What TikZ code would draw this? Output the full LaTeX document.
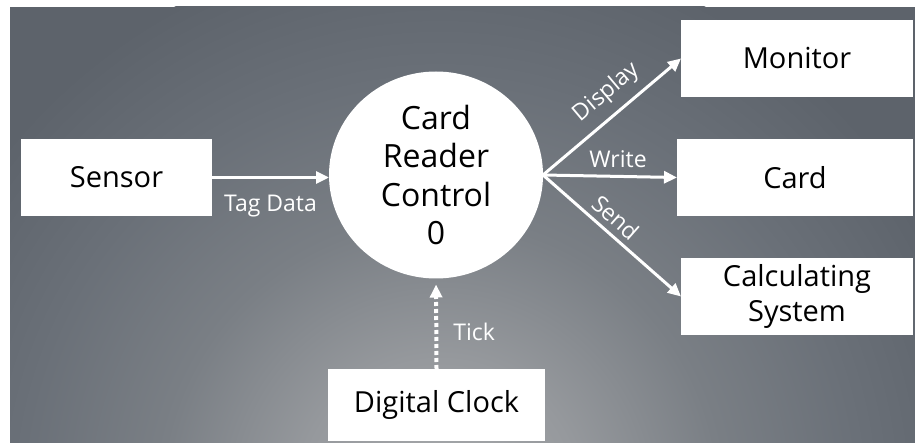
\documentclass[tikz,border=0pt]{standalone}
\usepackage{fontspec}
\setmainfont{Open Sans}
\usetikzlibrary{arrows.meta,shapes.geometric}
\definecolor{bgdark}{RGB}{93,99,107}
\definecolor{bgc1}{RGB}{106,112,120}
\definecolor{bgc2}{RGB}{122,127,133}
\definecolor{bgc3}{RGB}{150,153,157}
\definecolor{bglight}{RGB}{168,170,172}
\pgfdeclareradialshading{bgshade}{\pgfpoint{0bp}{0bp}}{%
  color(0bp)=(bglight); color(6.25bp)=(bgc3); color(12.5bp)=(bgc2);
  color(18.75bp)=(bgc1); color(25bp)=(bgdark); color(50bp)=(bgdark)}
\begin{document}
\begin{tikzpicture}[x=1pt,y=-1pt,
  box/.style={rectangle,fill=white,inner sep=0pt,outer sep=0pt,align=center,
    font=\fontsize{29}{35}\selectfont,text=black},
  proc/.style={ellipse,fill=white,inner sep=0pt,outer sep=0pt,align=center,
    minimum width=214pt,minimum height=207pt,font=\fontsize{32}{38.5}\selectfont,text=black},
  flow/.style={draw=white,line width=3pt,-{Triangle[length=13pt,width=12pt]}},
  tickflow/.style={flow,line width=4pt,dash pattern=on 4pt off 3pt},
  lbl/.style={text=white,font=\fontsize{23}{27}\selectfont,inner sep=0pt}]
\useasboundingbox (0,0) rectangle (915,443);
\fill[white] (0,0) rectangle (915,443);
\begin{scope}
  \clip (10,7) rectangle (915,443);
  \fill[bgdark] (10,7) rectangle (915,443);
  \shade[shading=bgshade] (440,500) circle (560);
\end{scope}
% nodes
\node[box,minimum width=191pt,minimum height=77pt] (sensor) at (116.5,177.5) {Sensor};
\node[proc] (ctrl) at (436,175) {Card\\Reader\\Control\\0};
\node[box,minimum width=232pt,minimum height=77pt] (monitor) at (797,58.5) {Monitor};
\node[box,minimum width=236pt,minimum height=77pt] (card) at (795,177.5) {Card};
\node[box,minimum width=232pt,minimum height=77pt] (calc) at (797,296.5) {Calculating\\System};
\node[box,minimum width=217pt,minimum height=72pt] (clock) at (436.5,405) {Digital Clock};
% connectors
\draw[flow] (sensor.east) -- node[lbl,pos=0.5,anchor=base,yshift=-34.5pt] {Tag Data} (sensor.east -| ctrl.west);
\draw[flow] (ctrl.east) -- node[lbl,sloped,pos=0.565,above=9pt] {Display} (monitor.west);
\draw[flow] (ctrl.east) -- node[lbl,pos=0.56,anchor=base,yshift=9pt] {Write} (card.west);
\draw[flow] (ctrl.east) -- node[lbl,sloped,pos=0.45,above=6pt] {Send} (calc.west);
\draw[tickflow,shorten >=6pt] (clock.north) -- node[lbl,pos=0.32,anchor=base west,xshift=15pt] {Tick} (ctrl.south);
\end{tikzpicture}
\end{document}
